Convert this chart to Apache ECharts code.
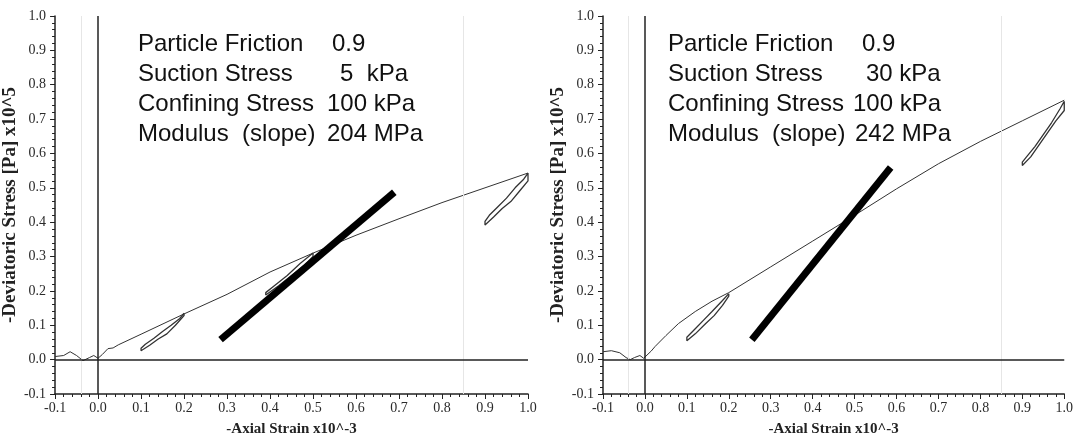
<!DOCTYPE html>
<html>
<head>
<meta charset="utf-8">
<script src="https://cdn.jsdelivr.net/npm/echarts@6/dist/echarts.min.js"></script>
<style>
  html, body { margin: 0; padding: 0; background: #fff; }
  #Chart { width: 1076px; height: 442px; }
</style>
</head>
<body>
<div id="Chart"></div>
<script>
var Chart = echarts.init(document.getElementById('Chart'));

// left panel (suction 5 kPa)
var leftCurve = [[-0.1, 0.009], [-0.08, 0.012], [-0.065, 0.023], [-0.05, 0.012], [-0.035, -0.003], [-0.02, 0.006],
    [-0.01, 0.012], [0.0, 0.004], [0.01, 0.015], [0.023, 0.032], [0.035, 0.034], [0.047, 0.043], [0.1, 0.074],
    [0.2, 0.133], [0.3, 0.19], [0.4, 0.255], [0.5, 0.31], [0.6, 0.362], [0.7, 0.41], [0.8, 0.457], [0.9, 0.5], [1.0, 0.543]];
var leftLoop1 = [[0.2, 0.135], [0.19, 0.12], [0.17, 0.1], [0.15, 0.082], [0.13, 0.062], [0.11, 0.045], [0.1, 0.033],
    [0.1, 0.026], [0.12, 0.042], [0.14, 0.06], [0.16, 0.075], [0.18, 0.1], [0.2, 0.128], [0.2, 0.135]];
var leftLoop2 = [[0.5, 0.31], [0.47, 0.28], [0.44, 0.245], [0.41, 0.215], [0.39, 0.195], [0.39, 0.188],
    [0.42, 0.215], [0.45, 0.245], [0.48, 0.275], [0.5, 0.3], [0.5, 0.31]];
var leftLoop3 = [[1.0, 0.543], [0.99, 0.525], [0.97, 0.5], [0.95, 0.47], [0.93, 0.445], [0.91, 0.42], [0.9, 0.402],
    [0.9, 0.392], [0.92, 0.415], [0.94, 0.44], [0.96, 0.46], [0.98, 0.49], [1.0, 0.52], [1.0, 0.543]];
var leftSlope = [[0.285, 0.058], [0.689, 0.487]];
var leftLabels = ['Particle Friction', 'Suction Stress', 'Confining Stress', 'Modulus  (slope)'];
var leftValues = ['0.9', '5  kPa', '100 kPa', '204 MPa'];

// right panel (suction 30 kPa)
var rightCurve = [[-0.1, 0.023], [-0.08, 0.026], [-0.06, 0.02], [-0.045, 0.006], [-0.035, 0.0], [-0.025, 0.006],
    [-0.012, 0.012], [-0.003, 0.004], [0.0, 0.005], [0.015, 0.025], [0.024, 0.038], [0.05, 0.07], [0.08, 0.105],
    [0.12, 0.14], [0.16, 0.17], [0.2, 0.195], [0.3, 0.27], [0.4, 0.345], [0.5, 0.42], [0.6, 0.497], [0.7, 0.57],
    [0.8, 0.635], [0.9, 0.695], [1.0, 0.755]];
var rightLoop1 = [[0.2, 0.192], [0.185, 0.172], [0.16, 0.14], [0.14, 0.115], [0.12, 0.09], [0.1, 0.065], [0.1, 0.055],
    [0.12, 0.075], [0.145, 0.105], [0.165, 0.128], [0.185, 0.158], [0.2, 0.185], [0.2, 0.192]];
var rightLoop2 = [[0.49, 0.417], [0.45, 0.36], [0.41, 0.3], [0.4, 0.29], [0.44, 0.345], [0.48, 0.4], [0.49, 0.417]];
var rightLoop3 = [[1.0, 0.752], [0.99, 0.73], [0.97, 0.69], [0.95, 0.655], [0.93, 0.62], [0.91, 0.59], [0.9, 0.575],
    [0.9, 0.565], [0.92, 0.59], [0.94, 0.625], [0.96, 0.66], [0.98, 0.695], [1.0, 0.725], [1.0, 0.752]];
var rightSlope = [[0.255, 0.058], [0.586, 0.559]];
var rightLabels = ['Particle Friction', 'Suction Stress', 'Confining Stress', 'Modulus  (slope)'];
var rightValues = ['0.9', '30 kPa', '100 kPa', '242 MPa'];

var xName = '-Axial Strain x10^-3';
var yName = '-Deviatoric Stress [Pa] x10^5';

var serif = '"Liberation Serif", "Times New Roman", serif';

function fmt(v) {
    return (Math.round(v * 10) / 10).toFixed(1);
}

function makeX(idx) {
    return {
        type: 'value', gridIndex: idx, min: -0.1, max: 1.0, interval: 0.1,
        name: xName, nameLocation: 'middle', nameGap: 28,
        nameTextStyle: { fontFamily: serif, fontWeight: 'bold', fontSize: 15, color: '#222' },
        axisLine: { onZero: false, lineStyle: { color: '#222', width: 1.5 } },
        axisTick: { length: 5, lineStyle: { color: '#222' } },
        minorTick: { show: true, splitNumber: 5, length: 3, lineStyle: { color: '#222' } },
        axisLabel: { fontFamily: serif, fontSize: 14, color: '#2a2a2a', margin: 7, formatter: fmt },
        splitLine: { show: false }
    };
}

function makeY(idx) {
    return {
        type: 'value', gridIndex: idx, min: -0.1, max: 1.0, interval: 0.1,
        name: yName, nameLocation: 'middle', nameGap: 25, nameRotate: 90,
        nameTextStyle: { fontFamily: serif, fontWeight: 'bold', fontSize: 19, color: '#222' },
        axisLine: { onZero: false, lineStyle: { color: '#222', width: 1.5 } },
        axisTick: { length: 5, lineStyle: { color: '#222' } },
        minorTick: { show: true, splitNumber: 5, length: 3, lineStyle: { color: '#222' } },
        axisLabel: { fontFamily: serif, fontSize: 14, color: '#2a2a2a', margin: 9, formatter: fmt },
        splitLine: { show: false }
    };
}

function thin(data, idx, color, width) {
    return {
        type: 'line', xAxisIndex: idx, yAxisIndex: idx, data: data,
        showSymbol: false, silent: true,
        lineStyle: { color: color || '#3a3a3a', width: width || 1 }
    };
}

function panelSeries(idx, curve, loops, slope) {
    var list = [];
    var c = thin(curve, idx, '#333', 1);
    c.markLine = {
        silent: true, symbol: 'none', label: { show: false },
        data: [
            { xAxis: -0.04, lineStyle: { color: '#e6e6e6', width: 1, type: 'solid' } },
            { xAxis: 0.85, lineStyle: { color: '#e6e6e6', width: 1, type: 'solid' } },
            { xAxis: 0, lineStyle: { color: '#222', width: 1.5, type: 'solid' } },
            { yAxis: 0, lineStyle: { color: '#222', width: 1.5, type: 'solid' } }
        ]
    };
    list.push(c);
    loops.forEach(function (l) { list.push(thin(l, idx, '#333', 1.3)); });
    list.push({
        type: 'line', xAxisIndex: idx, yAxisIndex: idx, data: slope,
        showSymbol: false, silent: true,
        lineStyle: { color: '#000', width: 7, cap: 'butt' }
    });
    return list;
}

function textBlock(x0, labels, values, offsets) {
    var els = [];
    var rowY = [45, 75, 105, 135];
    for (var i = 0; i < labels.length; i++) {
        els.push({
            type: 'text', left: x0, top: rowY[i] - 13,
            style: { text: labels[i], font: '24px "Liberation Sans", Arial, sans-serif', fill: '#111' }
        });
        els.push({
            type: 'text', left: x0 + offsets[i], top: rowY[i] - 13,
            style: { text: values[i], font: '24px "Liberation Sans", Arial, sans-serif', fill: '#111' }
        });
    }
    return els;
}

var ChartOption = {
    animation: false,
    backgroundColor: '#fff',
    grid: [
        { left: 55, right: 548, top: 16, bottom: 46 },
        { left: 603, right: 6, top: 16, bottom: 46 }
    ],
    xAxis: [makeX(0), makeX(1)],
    yAxis: [makeY(0), makeY(1)],
    graphic: textBlock(138, leftLabels, leftValues, [194, 202, 189, 189])
        .concat(textBlock(668, rightLabels, rightValues, [194, 198, 185, 187])),
    series: panelSeries(0, leftCurve, [leftLoop1, leftLoop2, leftLoop3], leftSlope)
        .concat(panelSeries(1, rightCurve, [rightLoop1, rightLoop2, rightLoop3], rightSlope))
};

Chart.setOption(ChartOption);

window.addEventListener("resize", function () {
    Chart.resize();
});
</script>
</body>
</html>
